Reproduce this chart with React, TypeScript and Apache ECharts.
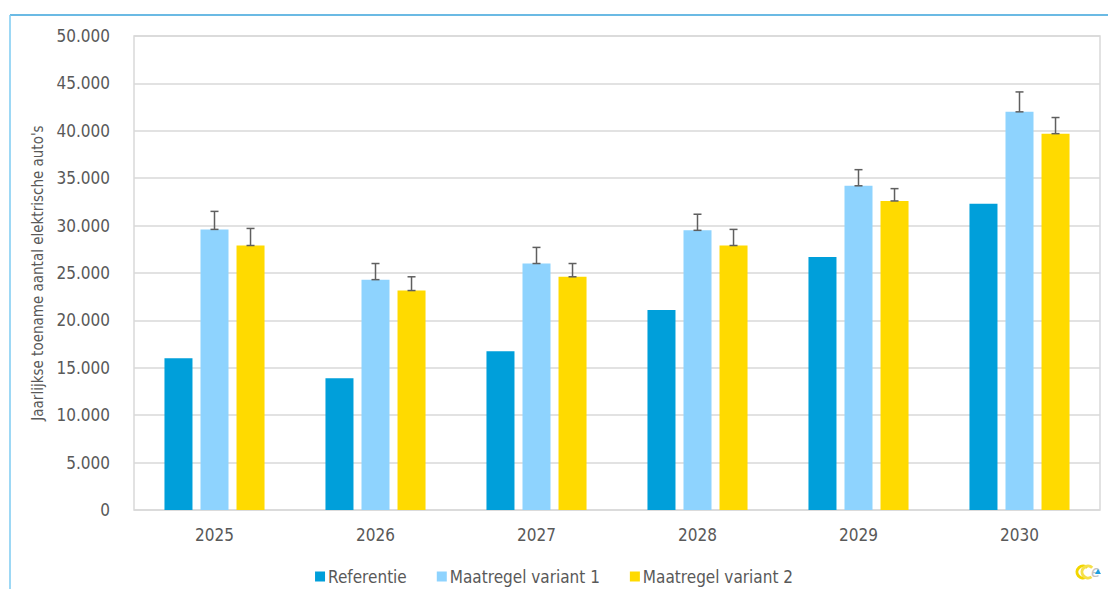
import React, { useEffect, useRef } from "react";
import * as echarts from "echarts";

const categories = ["2025", "2026", "2027", "2028", "2029", "2030"];
const referentie = [16000, 13900, 16750, 21100, 26700, 32300];
const variant1 = [29600, 24300, 26000, 29500, 34200, 42000];
const variant1Upper = [31500, 26000, 27700, 31200, 35900, 44100];
const variant2 = [27900, 23150, 24600, 27900, 32600, 39700];
const variant2Upper = [29700, 24600, 26000, 29600, 33900, 41400];
const yTicks = [0, 5000, 10000, 15000, 20000, 25000, 30000, 35000, 40000, 45000, 50000];

const seriesNames = ["Referentie", "Maatregel variant 1", "Maatregel variant 2"];
const colors = ["#009FDA", "#8ED3FE", "#FFDA00"];

const FONT = "'DejaVu Sans Condensed', 'DejaVu Sans', sans-serif";
const BAR_W = 0.174;
const BAR_GAP = 0.286;

function fmt(v: number): string {
  const s = String(Math.round(v));
  return s.replace(/\B(?=(\d{3})+(?!\d))/g, ".");
}

function errorSeries(values: number[], upper: number[], offsetFrac: number) {
  return {
    type: "custom",
    silent: true,
    z: 10,
    data: values.map((v, i) => [i, v, upper[i]]),
    renderItem: (params: any, api: any) => {
      const cat = api.value(0);
      const base = api.coord([cat, api.value(1)]);
      const top = api.coord([cat, api.value(2)]);
      const band = api.size([1, 0])[0];
      const x = base[0] + offsetFrac * band;
      const cap = 4;
      const style = { stroke: "#5f5f5f", lineWidth: 1.5 };
      return {
        type: "group",
        children: [
          { type: "line", shape: { x1: x, y1: base[1], x2: x, y2: top[1] }, style },
          { type: "line", shape: { x1: x - cap, y1: top[1], x2: x + cap, y2: top[1] }, style },
          { type: "line", shape: { x1: x - cap, y1: base[1], x2: x + cap, y2: base[1] }, style },
        ],
      };
    },
  };
}

export default function App() {
  const ref = useRef<HTMLDivElement>(null);
  useEffect(() => {
    document.body.style.margin = "0";
    const chart = echarts.init(ref.current!, null, { renderer: "svg" });
    const off = BAR_W * (1 + BAR_GAP);
    chart.setOption({
      animation: false,
      backgroundColor: "#ffffff",
      grid: {
        left: 134,
        right: 8,
        top: 36,
        bottom: 79,
        show: true,
        borderColor: "#d9d9d9",
        borderWidth: 1.5,
      },
      legend: {
        data: seriesNames,
        top: 563,
        left: "center",
        icon: "rect",
        itemWidth: 10,
        itemHeight: 10,
        itemGap: 30,
        textStyle: { fontFamily: FONT, fontSize: 17, color: "#595959", padding: [0, 0, 0, -2] },
      },
      xAxis: {
        type: "category",
        data: categories,
        axisLine: { show: false },
        axisTick: { show: false },
        axisLabel: { fontFamily: FONT, fontSize: 17, color: "#595959", margin: 16 },
      },
      yAxis: {
        type: "value",
        min: yTicks[0],
        max: yTicks[yTicks.length - 1],
        interval: yTicks[1] - yTicks[0],
        name: "Jaarlijkse toename aantal elektrische auto's",
        nameLocation: "middle",
        nameGap: 89,
        nameTextStyle: { fontFamily: FONT, fontSize: 15, color: "#595959" },
        axisLabel: { fontFamily: FONT, fontSize: 17, color: "#595959", margin: 24, formatter: fmt },
        splitLine: { lineStyle: { color: "#d9d9d9", width: 1.5 } },
      },
      series: [
        {
          name: seriesNames[0],
          type: "bar",
          data: referentie,
          itemStyle: { color: colors[0] },
          barWidth: BAR_W * 100 + "%",
          barGap: BAR_GAP * 100 + "%",
        },
        {
          name: seriesNames[1],
          type: "bar",
          data: variant1,
          itemStyle: { color: colors[1] },
          barWidth: BAR_W * 100 + "%",
          barGap: BAR_GAP * 100 + "%",
        },
        {
          name: seriesNames[2],
          type: "bar",
          data: variant2,
          itemStyle: { color: colors[2] },
          barWidth: BAR_W * 100 + "%",
          barGap: BAR_GAP * 100 + "%",
        },
        errorSeries(variant1, variant1Upper, 0),
        errorSeries(variant2, variant2Upper, off),
      ],
      graphic: [
        { type: "line", shape: { x1: 10, y1: 15, x2: 1108, y2: 15 }, style: { stroke: "#3AA3DB", lineWidth: 1.5 } },
        { type: "line", shape: { x1: 10, y1: 15, x2: 10, y2: 589 }, style: { stroke: "#7CCBF2", lineWidth: 1.5 } },
        {
          type: "arc",
          shape: { cx: 1083, cy: 572, r: 6, startAngle: Math.PI * 0.3, endAngle: Math.PI * 1.75 },
          style: { stroke: "#F2D600", lineWidth: 3, fill: "none" },
        },
        {
          type: "arc",
          shape: { cx: 1088, cy: 572, r: 6, startAngle: Math.PI * 0.3, endAngle: Math.PI * 1.75 },
          style: { stroke: "#F5E04A", lineWidth: 3, fill: "none" },
        },
        {
          type: "text",
          x: 1091,
          y: 564,
          style: { text: "e", font: "italic 15px 'DejaVu Sans'", fill: "#c4c4c4" },
        },
        {
          type: "polygon",
          shape: { points: [[1095, 574], [1101, 574], [1098, 569]] },
          style: { fill: "#1E9FE0" },
        },
      ],
    });
    return () => chart.dispose();
  }, []);
  return <div ref={ref} style={{ position: "absolute", left: 0, top: 0, width: 1108, height: 589 }} />;
}
